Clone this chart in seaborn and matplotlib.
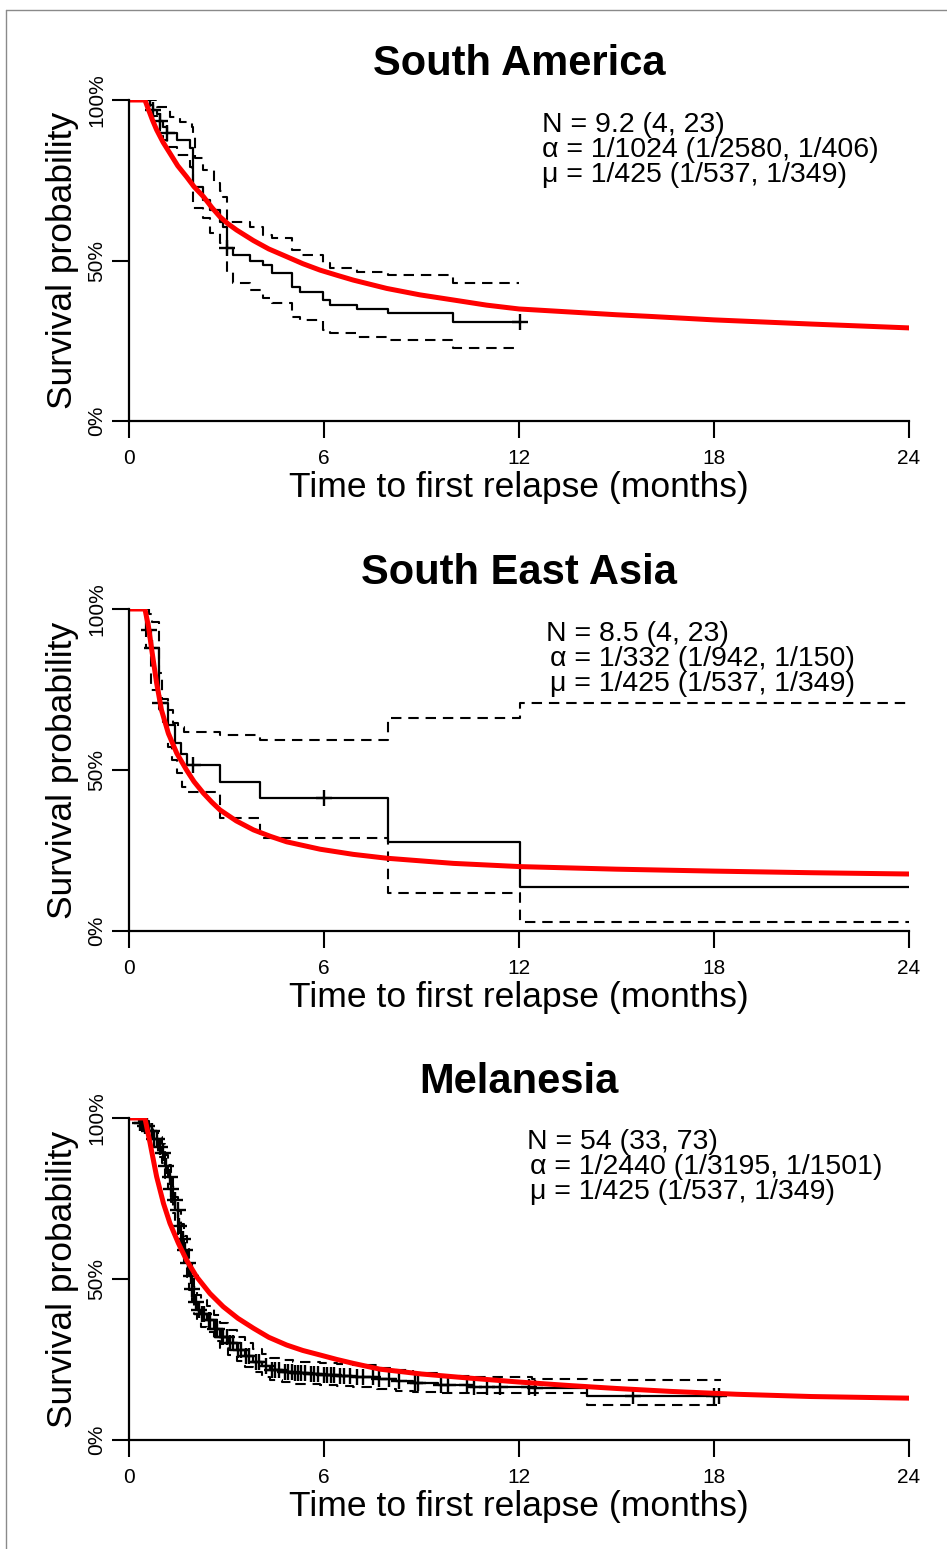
import numpy as np
import matplotlib
matplotlib.use("Agg")
import matplotlib.pyplot as plt
import seaborn as sns

# ---- data ----
xticks = [0, 6, 12, 18, 24]
yticks = [0, 0.5, 1.0]
ytick_labels = ["0%", "50%", "100%"]

titles = ["South America", "South East Asia", "Melanesia"]
annotations = [
    ["N = 9.2 (4, 23)", "\u03b1 = 1/1024 (1/2580, 1/406)", "\u03bc = 1/425 (1/537, 1/349)"],
    ["N = 8.5 (4, 23)", "\u03b1 = 1/332 (1/942, 1/150)", "\u03bc = 1/425 (1/537, 1/349)"],
    ["N = 54 (33, 73)", "\u03b1 = 1/2440 (1/3195, 1/1501)", "\u03bc = 1/425 (1/537, 1/349)"],
]

# South America
sa_model_t = [0, 0.49, 0.6, 0.72, 0.85, 1.05, 1.26, 1.5, 1.77, 2.0, 2.29, 2.55, 2.8, 3.05, 3.31,
              3.83, 4.3, 4.85, 5.35, 5.88, 6.4, 6.9, 7.93, 8.95, 9.98, 11.0, 12.0, 13.0, 14.0,
              15.0, 16.0, 18.0, 21.0, 24.0]
sa_model_s = [1, 1, 0.97, 0.938, 0.907, 0.868, 0.834, 0.795, 0.761, 0.73, 0.699, 0.665, 0.636,
              0.614, 0.595, 0.562, 0.536, 0.512, 0.49, 0.47, 0.454, 0.439, 0.413, 0.393, 0.377,
              0.361, 0.349, 0.343, 0.337, 0.331, 0.326, 0.315, 0.302, 0.29]
sa_km_t = [0, 0.65, 0.75, 0.85, 0.95, 1.05, 1.16, 1.47, 1.88, 1.98, 2.29, 2.49, 2.8, 2.9, 3.0,
           3.21, 3.72, 4.13, 4.39, 5.0, 5.26, 5.98, 6.18, 7.0, 7.98, 9.98, 12.03]
sa_km_s = [1, 0.985, 0.97, 0.955, 0.935, 0.915, 0.896, 0.875, 0.85, 0.73, 0.688, 0.657, 0.62,
           0.605, 0.54, 0.517, 0.5, 0.486, 0.46, 0.418, 0.403, 0.377, 0.361, 0.348, 0.335,
           0.309, 0.309]
sa_up_t = [0, 0.85, 1.26, 1.57, 1.93, 1.97, 2.03, 2.29, 2.6, 2.8, 2.9, 3.0, 3.72, 4.13, 4.39,
           5.0, 5.26, 5.98, 6.18, 7.0, 7.98, 9.98, 12.0]
sa_up_s = [1, 0.979, 0.948, 0.932, 0.917, 0.886, 0.818, 0.782, 0.74, 0.715, 0.699, 0.62, 0.605,
           0.579, 0.569, 0.533, 0.517, 0.491, 0.476, 0.465, 0.455, 0.429, 0.429]
sa_lo_t = [0, 0.65, 0.75, 0.85, 0.95, 1.05, 1.16, 1.47, 1.88, 1.93, 1.98, 2.29, 2.49, 2.8, 3.0,
           3.21, 3.72, 4.13, 4.39, 5.0, 5.26, 5.98, 6.18, 7.0, 7.98, 9.98, 12.03]
sa_lo_s = [1, 0.97, 0.95, 0.93, 0.9, 0.875, 0.855, 0.829, 0.792, 0.771, 0.663, 0.631, 0.585,
           0.553, 0.465, 0.429, 0.408, 0.382, 0.367, 0.325, 0.315, 0.283, 0.273, 0.263, 0.252,
           0.226, 0.226]
sa_censor = [0.75, 0.95, 1.16, 3.02, 12.03]

# South East Asia
sea_model_t = [0, 0.49, 0.6, 0.7, 0.85, 1.0, 1.21, 1.47, 1.77, 2.0, 2.29, 2.55, 2.8, 3.3, 3.83,
               4.35, 4.85, 5.88, 6.9, 7.93, 9.98, 12.03, 15, 18, 21, 24]
sea_model_s = [1, 1, 0.945, 0.873, 0.77, 0.686, 0.614, 0.552, 0.5, 0.464, 0.428, 0.4, 0.376,
               0.342, 0.314, 0.294, 0.277, 0.254, 0.238, 0.226, 0.21, 0.2, 0.192, 0.186, 0.181,
               0.177]
sea_km_t = [0, 0.52, 0.68, 0.92, 1.2, 1.4, 1.6, 1.77, 2.8, 4.03, 7.98, 12.03, 24]
sea_km_s = [1, 0.935, 0.878, 0.707, 0.64, 0.585, 0.55, 0.516, 0.464, 0.412, 0.277, 0.138, 0.138]
sea_up_t = [0, 0.6, 0.7, 0.92, 1.0, 1.2, 1.35, 1.5, 1.7, 2.8, 4.03, 7.98, 12.03, 24]
sea_up_s = [1, 0.985, 0.96, 0.8, 0.72, 0.686, 0.645, 0.634, 0.619, 0.609, 0.593, 0.66, 0.707, 0.707]
sea_lo_t = [0, 0.52, 0.68, 0.92, 1.06, 1.2, 1.31, 1.47, 1.62, 1.77, 2.8, 4.03, 7.98, 12.03, 24]
sea_lo_s = [1, 0.88, 0.75, 0.69, 0.65, 0.57, 0.531, 0.49, 0.448, 0.433, 0.35, 0.288, 0.117,
            0.029, 0.029]
sea_censor = [0.63, 0.72, 0.95, 1.98, 6.0]

# Melanesia
mel_model_t = [0, 0.49, 0.65, 0.85, 1.06, 1.26, 1.52, 1.77, 2.08, 2.49, 2.9, 3.35, 3.83, 4.3,
               4.85, 5.35, 5.88, 6.4, 6.9, 7.72, 9.0, 10.5, 12.0, 13.57, 15.0, 16.65, 18.7,
               21, 24]
mel_model_s = [1, 1, 0.921, 0.818, 0.735, 0.673, 0.611, 0.559, 0.507, 0.455, 0.414, 0.378,
               0.347, 0.319, 0.295, 0.278, 0.264, 0.25, 0.238, 0.22, 0.205, 0.192, 0.18,
               0.169, 0.16, 0.151, 0.142, 0.135, 0.13]
mel_km_t = [0, 0.3, 0.45, 0.6, 0.75, 0.9, 1.0, 1.1, 1.2, 1.28, 1.36, 1.43, 1.52, 1.6, 1.68,
            1.77, 1.86, 1.93, 2.0, 2.1, 2.2, 2.39, 2.6, 2.8, 3.05, 3.31, 3.57, 3.83, 4.1, 4.34,
            4.7, 5.06, 5.5, 5.88, 6.4, 6.9, 7.62, 8.2, 8.75, 9.5, 10.5, 12.4, 14.1, 18.2]
mel_km_s = [1, 0.985, 0.975, 0.96, 0.935, 0.91, 0.89, 0.85, 0.818, 0.78, 0.745, 0.714, 0.665,
            0.625, 0.59, 0.55, 0.51, 0.47, 0.43, 0.405, 0.39, 0.373, 0.345, 0.321, 0.3, 0.28,
            0.26, 0.243, 0.23, 0.217, 0.212, 0.207, 0.205, 0.202, 0.2, 0.197, 0.19, 0.183,
            0.176, 0.17, 0.165, 0.16, 0.138, 0.138]
mel_up_s = [1, 0.995, 0.99, 0.98, 0.96, 0.94, 0.92, 0.885, 0.855, 0.82, 0.785, 0.755, 0.71,
            0.67, 0.635, 0.595, 0.555, 0.515, 0.475, 0.45, 0.435, 0.415, 0.388, 0.363, 0.341,
            0.32, 0.3, 0.282, 0.268, 0.254, 0.249, 0.243, 0.241, 0.238, 0.235, 0.232, 0.224,
            0.216, 0.209, 0.2, 0.195, 0.19, 0.186, 0.186]
mel_lo_s = [1, 0.975, 0.96, 0.94, 0.91, 0.88, 0.86, 0.815, 0.78, 0.74, 0.705, 0.673, 0.622,
            0.582, 0.547, 0.507, 0.467, 0.428, 0.39, 0.366, 0.351, 0.335, 0.308, 0.285, 0.265,
            0.245, 0.226, 0.21, 0.197, 0.185, 0.18, 0.175, 0.173, 0.17, 0.168, 0.165, 0.158,
            0.152, 0.148, 0.145, 0.145, 0.145, 0.109, 0.109]
mel_censor = [0.35, 0.4, 0.5, 0.55, 0.62, 0.7, 0.78, 0.85, 0.95, 1.05, 1.15, 1.25, 1.3, 1.4,
              1.5, 1.55, 1.65, 1.72, 1.8, 1.9, 1.95, 2.05, 2.15, 2.25, 2.3, 2.45, 2.5, 2.65,
              2.7, 2.85, 2.9, 3.0, 3.1, 3.2, 3.35, 3.45, 3.6, 3.7, 3.9, 4.0, 4.2, 4.4, 4.5,
              4.6, 4.8, 4.9, 5.0, 5.1, 5.2, 5.3, 5.4, 5.6, 5.7, 5.8, 6.0, 6.1, 6.2, 6.3, 6.5,
              6.6, 6.8, 7.0, 7.2, 7.5, 7.7, 8.0, 8.3, 8.8, 8.9, 9.6, 9.8, 10.4, 10.6, 11.0,
              11.4, 12.3, 12.5, 15.5, 18.0, 18.15]

panels = [
    (sa_model_t, sa_model_s, sa_km_t, sa_km_s, sa_up_t, sa_up_s, sa_lo_t, sa_lo_s, sa_censor),
    (sea_model_t, sea_model_s, sea_km_t, sea_km_s, sea_up_t, sea_up_s, sea_lo_t, sea_lo_s, sea_censor),
    (mel_model_t, mel_model_s, mel_km_t, mel_km_s, mel_km_t, mel_up_s, mel_km_t, mel_lo_s, mel_censor),
]
# where the text block sits (data coords) per panel: (x of N line, x of greek lines, y of first line)
text_pos = [(12.7, 12.7, 0.922), (12.83, 12.95, 0.922), (12.25, 12.34, 0.925)]

sns.set_style("ticks")
plt.rcParams["font.family"] = ["Liberation Sans", "DejaVu Sans"]
plt.rcParams["text.color"] = "black"
plt.rcParams["axes.labelcolor"] = "black"
plt.rcParams["xtick.color"] = "black"
plt.rcParams["ytick.color"] = "black"

fig = plt.figure(figsize=(9.47, 15.49), dpi=100)
ax_tops = [100, 609, 1118]
ax_bottoms = [421, 931, 1440]

dash = (0, (5, 3.3))
for i, (mt, ms, kt, ks, ut, us, lt, ls, cens) in enumerate(panels):
    top, bot = ax_tops[i], ax_bottoms[i]
    ax = fig.add_axes([129 / 947, 1 - bot / 1549, 780 / 947, (bot - top) / 1549])

    sns.lineplot(x=ut, y=us, ax=ax, drawstyle="steps-post", color="black", lw=1.5,
                 linestyle=dash, estimator=None, sort=False)
    sns.lineplot(x=lt, y=ls, ax=ax, drawstyle="steps-post", color="black", lw=1.5,
                 linestyle=dash, estimator=None, sort=False)
    sns.lineplot(x=kt, y=ks, ax=ax, drawstyle="steps-post", color="black", lw=1.6,
                 estimator=None, sort=False)
    # censoring marks sit on the KM step value
    idx = np.searchsorted(kt, cens, side="right") - 1
    cs = np.asarray(ks)[idx]
    ax.plot(cens, cs, ls="none", marker="+", ms=12, mew=1.7, color="black")
    sns.lineplot(x=mt, y=ms, ax=ax, color="#ff0000", lw=3.6, estimator=None, sort=False)

    ax.set_xlim(0, 24)
    ax.set_ylim(0, 1)
    ax.set_xticks(xticks)
    ax.set_xticklabels([str(x) for x in xticks])
    ax.set_yticks(yticks)
    ax.set_yticklabels(ytick_labels, rotation=90, va="center")
    ax.tick_params(axis="both", direction="out", length=12.5, width=1.5, color="black",
                   labelsize=15, labelcolor="black")
    ax.tick_params(axis="x", pad=8)
    ax.tick_params(axis="y", pad=4)
    for side in ["top", "right"]:
        ax.spines[side].set_visible(False)
    for side in ["left", "bottom"]:
        ax.spines[side].set_linewidth(1.6)
        ax.spines[side].set_color("black")
    ax.set_xlabel("Time to first relapse (months)", fontsize=25.5, labelpad=2, color="black")
    ax.set_ylabel("Survival probability", fontsize=25.5, labelpad=6, color="black")
    ax.set_title(titles[i], fontsize=30, fontweight="bold", pad=18, color="black")

    xn, xg, y0 = text_pos[i]
    for j, line in enumerate(annotations[i]):
        ax.text(xn if j == 0 else xg, y0 - j * 0.078, line, fontsize=20.5, va="center",
                ha="left", color="black")

# thin grey frame (left and top edges visible)
fig.add_artist(plt.Line2D([6 / 947, 6 / 947], [0, 1 - 10 / 1549], transform=fig.transFigure,
                          color="#8a8a8a", lw=1))
fig.add_artist(plt.Line2D([6 / 947, 1], [1 - 10 / 1549, 1 - 10 / 1549],
                          transform=fig.transFigure, color="#8a8a8a", lw=1))

fig.savefig("out.png", dpi=100)
